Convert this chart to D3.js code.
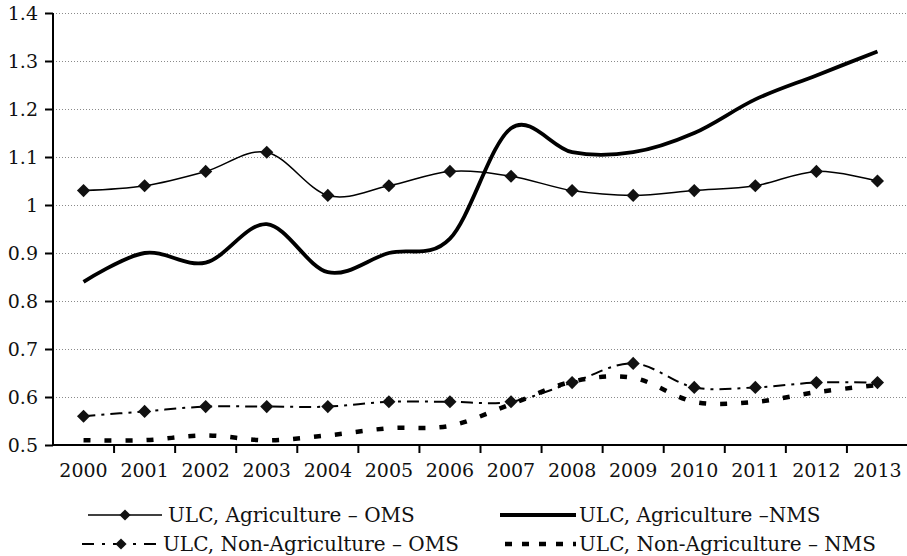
<!DOCTYPE html>
<html>
<head>
<meta charset="utf-8">
<script src="https://cdn.jsdelivr.net/npm/d3@7/dist/d3.min.js"></script>
<style>
  html, body { margin: 0; padding: 0; background: #fff; }
  svg text { font-family: "DejaVu Serif", "Liberation Serif", serif; fill: #111; }
</style>
</head>
<body>
<svg id="chart" width="907" height="556"></svg>
<script>
// ---- data ----
const years = ["2000","2001","2002","2003","2004","2005","2006","2007","2008","2009","2010","2011","2012","2013"];
const agriOMS    = [1.03, 1.04, 1.07, 1.11, 1.02, 1.04, 1.07, 1.06, 1.03, 1.02, 1.03, 1.04, 1.07, 1.05];
const agriNMS    = [0.84, 0.90, 0.88, 0.96, 0.86, 0.90, 0.93, 1.16, 1.11, 1.11, 1.15, 1.22, 1.27, 1.32];
const nonAgriOMS = [0.56, 0.57, 0.58, 0.58, 0.58, 0.59, 0.59, 0.59, 0.63, 0.67, 0.62, 0.62, 0.63, 0.63];
const nonAgriNMS = [0.51, 0.51, 0.52, 0.51, 0.52, 0.535, 0.54, 0.585, 0.632, 0.64, 0.59, 0.59, 0.61, 0.625];
const yTicks      = [0.5, 0.6, 0.7, 0.8, 0.9, 1.0, 1.1, 1.2, 1.3, 1.4];
const yTickLabels = ["0.5","0.6","0.7","0.8","0.9","1","1.1","1.2","1.3","1.4"];
const seriesNames = ["ULC, Agriculture \u2013 OMS", "ULC, Agriculture \u2013NMS", "ULC, Non-Agriculture \u2013 OMS", "ULC, Non-Agriculture \u2013 NMS"];

(function () {
// ---- layout ----
const svg = d3.select("#chart");
const pL = 53, pR = 908, pT = 13, pB = 445;
const FS = 19, LFS = 20;

const x = d3.scaleBand().domain(years).range([pL, pR]).paddingInner(0).paddingOuter(0);
const y = d3.scaleLinear().domain([0.5, 1.4]).range([pB, pT]);
const cx = d => x(d) + x.bandwidth() / 2;

// gridlines
svg.append("g").selectAll("line").data(yTicks.filter(v => v > 0.5)).join("line")
  .attr("x1", pL).attr("x2", 907)
  .attr("y1", d => Math.round(y(d)) + 0.5).attr("y2", d => Math.round(y(d)) + 0.5)
  .attr("stroke", "#8a8a8a").attr("stroke-width", 1).attr("stroke-dasharray", "1,2");

// y axis
const yAxis = d3.axisLeft(y).tickValues(yTicks).tickSize(8).tickPadding(7)
  .tickFormat((d, i) => yTickLabels[i]);
const gy = svg.append("g").attr("transform", `translate(${pL},0)`).call(yAxis);
gy.select(".domain").attr("stroke", "#000").attr("stroke-width", 2).attr("d", `M0,${pT}V${pB}`);
gy.selectAll(".tick line").attr("stroke", "#000").attr("stroke-width", 2);
gy.selectAll(".tick text").attr("font-size", FS).attr("font-family", "DejaVu Serif").attr("fill", "#111");

// x axis: ticks at band boundaries, labels at centers
const gx = svg.append("g").attr("transform", `translate(0,${pB})`);
gx.append("line").attr("x1", pL).attr("x2", 907).attr("y1", 0).attr("y2", 0)
  .attr("stroke", "#000").attr("stroke-width", 2);
gx.selectAll("line.tk").data(years).join("line").attr("class", "tk")
  .attr("x1", d => x(d) + x.bandwidth()).attr("x2", d => x(d) + x.bandwidth())
  .attr("y1", 0).attr("y2", 8).attr("stroke", "#000").attr("stroke-width", 2);
gx.selectAll("text").data(years).join("text")
  .attr("x", d => cx(d)).attr("y", 32).attr("text-anchor", "middle")
  .attr("font-size", FS).text(d => d);

// lines
const line = d3.line().x((d, i) => cx(years[i])).y(d => y(d)).curve(d3.curveCatmullRom.alpha(0));

const styles = [
  { data: agriOMS, width: 1.5, dash: null, legDash: null, marker: true },
  { data: agriNMS, width: 3.8, dash: null, legDash: null, marker: false },
  { data: nonAgriOMS, width: 2, dash: "12,6,3,6", legDash: "12,8,3,8", marker: true },
  { data: nonAgriNMS, width: 4.5, dash: "7,14", legDash: "7,10", marker: false }
];

const diamond = d3.symbol().type(d3.symbolDiamond2).size(110);

styles.forEach(s => {
  svg.append("path").datum(s.data).attr("d", line)
    .attr("fill", "none").attr("stroke", "#000").attr("stroke-width", s.width)
    .attr("stroke-dasharray", s.dash).attr("stroke-linejoin", "round");
  if (s.marker) {
    svg.append("g").selectAll("path").data(s.data).join("path")
      .attr("d", diamond)
      .attr("transform", (d, i) => `translate(${cx(years[i])},${y(d)})`)
      .attr("fill", "#111");
  }
});

// legend
const legendItems = [
  { x1: 88, x2: 162, tx: 168, ty: 522, s: styles[0], name: seriesNames[0] },
  { x1: 500, x2: 576, tx: 579, ty: 522, s: styles[1], name: seriesNames[1] },
  { x1: 82, x2: 160, tx: 163, ty: 551, s: styles[2], name: seriesNames[2] },
  { x1: 505, x2: 576, tx: 579, ty: 551, s: styles[3], name: seriesNames[3] }
];
const lg = svg.append("g");
legendItems.forEach(it => {
  const yy = it.ty - 7;
  lg.append("line").attr("x1", it.x1).attr("x2", it.x2).attr("y1", yy).attr("y2", yy)
    .attr("stroke", "#000").attr("stroke-width", it.s.width)
    .attr("stroke-dasharray", it.s.legDash);
  if (it.s.marker) {
    lg.append("path").attr("d", d3.symbol().type(d3.symbolDiamond2).size(80))
      .attr("transform", `translate(${(it.x1 + it.x2) / 2},${yy})`).attr("fill", "#111");
  }
  lg.append("text").attr("x", it.tx).attr("y", it.ty).attr("font-size", LFS).text(it.name);
});
})();
</script>
</body>
</html>
